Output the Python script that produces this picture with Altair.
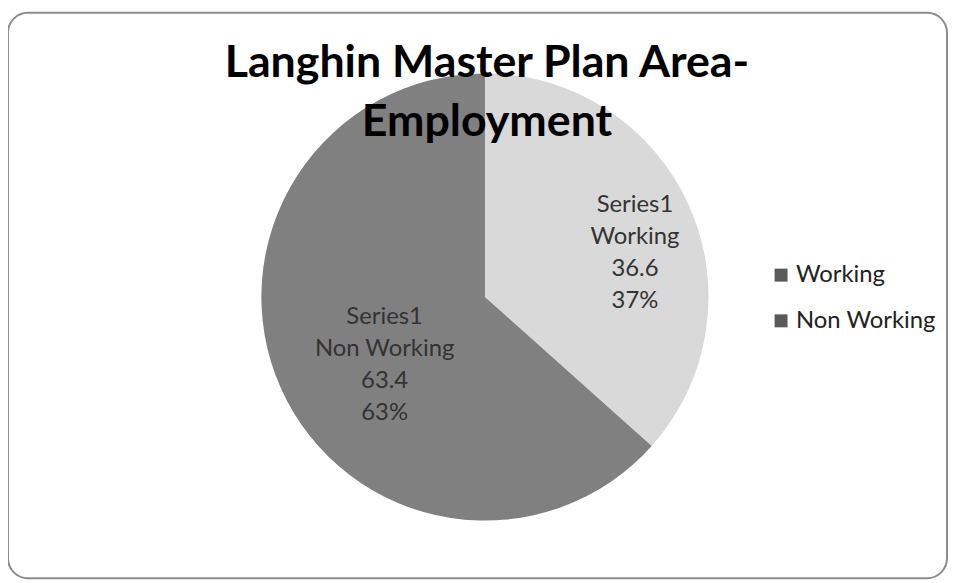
import altair as alt
import pandas as pd

categories = ["Working", "Non Working"]
values = [36.6, 63.4]
percents = ["37%", "63%"]
series_name = "Series1"
colors = ["#d9d9d9", "#808080"]
title_lines = ["Langhin Master Plan Area-", "Employment"]

W, H = 946, 575
CX, CY, R = 480, 289, 225

df = pd.DataFrame({
    "category": categories,
    "value": values,
    "idx": list(range(len(categories))),
    "label": [f"{series_name}\n{c}\n{v}\n{p}" for c, v, p in zip(categories, values, percents)],
})

base = alt.Chart(df).encode(
    theta=alt.Theta("value:Q", stack=True),
    order=alt.Order("idx:Q"),
)

pie = base.mark_arc(outerRadius=R, stroke=None).encode(
    x=alt.value(CX), y=alt.value(CY),
    color=alt.Color("category:N", scale=alt.Scale(domain=categories, range=colors), legend=None),
)

labels = base.mark_text(
    radius=138, dx=25, dy=-36, font="Lato", fontSize=24, lineHeight=32,
    lineBreak="\n", align="center", baseline="middle", color="#333333",
).encode(x=alt.value(CX), y=alt.value(CY), text="label:N")

border = alt.Chart(pd.DataFrame({"a": [0]})).mark_rect(
    cornerRadius=20, fillOpacity=0, stroke="#8c8c8c", strokeWidth=2,
).encode(x=alt.value(0), x2=alt.value(W - 1), y=alt.value(3), y2=alt.value(H - 3))

title = alt.Chart(pd.DataFrame({"t": ["\n".join(title_lines)]})).mark_text(
    font="Lato", fontSize=45, fontWeight="bold", lineHeight=59, lineBreak="\n",
    align="center", baseline="alphabetic", color="#000000",
).encode(x=alt.value(482), y=alt.value(68), text="t:N")

leg = pd.DataFrame({"category": categories})
leg_scale = alt.Scale(type="point", domain=categories, range=[267, 313], padding=0)
leg_sq = alt.Chart(leg).mark_square(size=170, filled=True, color="#5a5a5a", opacity=1).encode(
    x=alt.value(778),
    y=alt.Y("category:N", scale=leg_scale, axis=None),
)
leg_tx = alt.Chart(leg).mark_text(
    align="left", baseline="middle", font="Lato", fontSize=24, color="#222222",
).encode(
    x=alt.value(793),
    y=alt.Y("category:N", scale=leg_scale, axis=None),
    text="category:N",
)

chart = alt.layer(border, pie, labels, title, leg_sq, leg_tx).properties(
    width=W, height=H, padding=0, autosize=alt.AutoSizeParams(type="none"),
).configure_view(stroke=None)

chart.save("out.html", embed_options={"renderer": "svg", "actions": False})
